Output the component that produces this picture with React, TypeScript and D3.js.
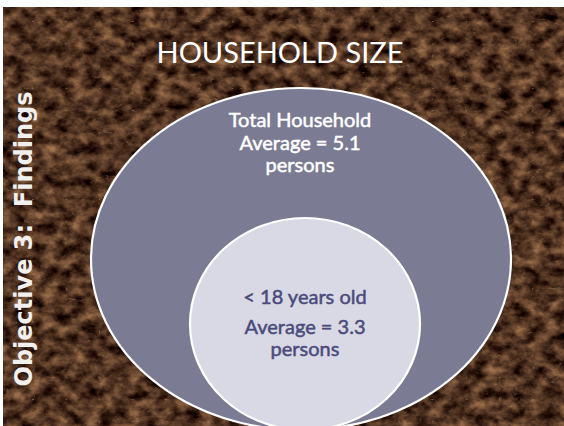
import React, { useEffect, useRef } from "react";
import * as d3 from "d3";

// data
const setLabels = ["Total Household", "< 18 years old"];
const setAverages = [5.1, 3.3];
const setUnit = "persons";
const titleText = "HOUSEHOLD SIZE";
const sideText = "Objective 3:  Findings";

const WIDTH = 564;
const HEIGHT = 426;

const App = () => {
  const svgRef = useRef(null);

  useEffect(() => {
    document.body.style.margin = "0";
    const svg = d3.select(svgRef.current);
    svg.selectAll("*").remove();

    // brown marble texture
    const defs = svg.append("defs");
    const marble = defs
      .append("filter")
      .attr("id", "marble")
      .attr("x", 0)
      .attr("y", 0)
      .attr("width", "100%")
      .attr("height", "100%")
      .attr("color-interpolation-filters", "sRGB");
    marble
      .append("feTurbulence")
      .attr("type", "fractalNoise")
      .attr("baseFrequency", "0.07 0.09")
      .attr("numOctaves", 5)
      .attr("seed", 7)
      .attr("result", "noise");
    marble
      .append("feColorMatrix")
      .attr("in", "noise")
      .attr("type", "matrix")
      .attr(
        "values",
        "0.85 0 0 0 -0.11  0.68 0 0 0 -0.14  0.48 0 0 0 -0.11  0 0 0 0 1"
      )
      .attr("result", "base");
    marble
      .append("feTurbulence")
      .attr("type", "turbulence")
      .attr("baseFrequency", "0.03 0.045")
      .attr("numOctaves", 4)
      .attr("seed", 2)
      .attr("result", "veinNoise");
    marble
      .append("feColorMatrix")
      .attr("in", "veinNoise")
      .attr("type", "matrix")
      .attr("values", "0 0 0 0 0.62  0 0 0 0 0.5  0 0 0 0 0.36  -6 0 0 0 0.6")
      .attr("result", "veins");
    marble
      .append("feComposite")
      .attr("in", "veins")
      .attr("in2", "base")
      .attr("operator", "over");

    // slide background
    svg.append("rect").attr("width", WIDTH).attr("height", HEIGHT).attr("fill", "#fff");
    svg
      .append("rect")
      .attr("x", 3)
      .attr("y", 7)
      .attr("width", WIDTH - 3)
      .attr("height", HEIGHT - 7)
      .attr("fill", "#5a3b22")
      .attr("filter", "url(#marble)");

    // title
    svg
      .append("text")
      .attr("x", 280)
      .attr("y", 63)
      .attr("text-anchor", "middle")
      .attr("fill", "#fff")
      .style("font-family", "Lato, 'Open Sans', sans-serif")
      .style("font-size", "29px")
      .text(titleText);

    // side label
    svg
      .append("text")
      .attr("transform", "translate(32,239) rotate(-90)")
      .attr("text-anchor", "middle")
      .attr("fill", "#f2f0ee")
      .style("font-family", "'DejaVu Sans', sans-serif")
      .style("font-weight", "bold")
      .style("font-size", "24px")
      .style("white-space", "pre")
      .text(sideText);

    // stacked venn: ellipses share a common bottom point
    const baseY = 430;
    const rxScale = d3.scaleLinear().domain([3.3, 5.1]).range([115, 210]);
    const ryScale = d3.scaleLinear().domain([3.3, 5.1]).range([106, 171]);
    const cxScale = d3.scaleLinear().domain([3.3, 5.1]).range([305, 301]);
    const fills = ["#7b7b93", "#d9d9e6"];
    const textColors = ["#ffffff", "#4b4b7b"];

    const sets = setLabels.map((label, i) => ({
      label,
      value: setAverages[i],
      fill: fills[i],
      color: textColors[i],
    }));

    svg
      .selectAll("ellipse.set")
      .data(sets)
      .enter()
      .append("ellipse")
      .attr("class", "set")
      .attr("cx", (d) => cxScale(d.value))
      .attr("cy", (d) => baseY - ryScale(d.value))
      .attr("rx", (d) => rxScale(d.value))
      .attr("ry", (d) => ryScale(d.value))
      .attr("fill", (d) => d.fill)
      .attr("stroke", "#fff")
      .attr("stroke-width", 2.2);

    // labels: outer near top of its ellipse, inner near its centre
    const labelTop = (d, i) =>
      i === 0 ? baseY - 2 * ryScale(d.value) + 39 : baseY - ryScale(d.value) - 20;
    const lineGap = (i) => (i === 0 ? [0, 23, 45] : [0, 30, 52]);

    sets.forEach((d, i) => {
      const lines = [d.label, `Average = ${d.value}`, setUnit];
      svg
        .append("g")
        .selectAll("text")
        .data(lines)
        .enter()
        .append("text")
        .attr("x", cxScale(d.value) - (i === 0 ? 1 : 0))
        .attr("y", (t, j) => labelTop(d, i) + lineGap(i)[j])
        .attr("text-anchor", "middle")
        .attr("fill", d.color)
        .style("font-family", "Lato, 'Open Sans', sans-serif")
        .style("font-size", "20px")
        .style("stroke", d.color)
        .style("stroke-width", 0.5)
        .text((t) => t);
    });
  }, []);

  return <svg ref={svgRef} width={WIDTH} height={HEIGHT} style={{ display: "block" }}></svg>;
};

export default App;
